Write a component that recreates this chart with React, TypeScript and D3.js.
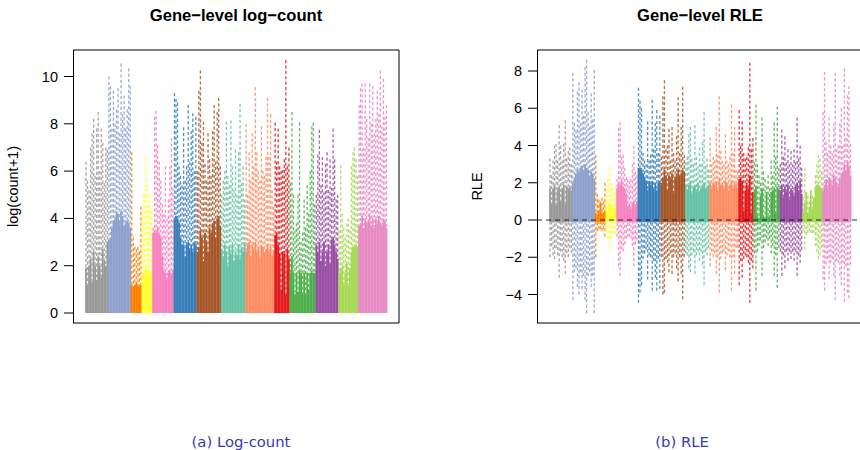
import React from "react";
import * as d3 from "d3";

const groupSizes = [15, 15, 7, 7, 14, 15, 16, 16, 19, 10, 17, 15, 13, 19];
const groupColors = ["#999999", "#8DA0CB", "#FF7F00", "#FFFF33", "#F781BF", "#377EB8", "#A65628", "#66C2A5", "#FC8D62", "#E41A1C", "#4DAF4A", "#984EA3", "#A6D854", "#E78AC3"];
const logTicks = [0, 2, 4, 6, 8, 10];
const rleTicks = [-4, -2, 0, 2, 4, 6, 8];

const logHi = [
  6.4, 5.6, 5.2, 7.0, 7.6, 8.2, 5.8, 7.8, 8.5, 6.0, 7.8, 7.2, 5.5, 7.0, 6.9,
  10.0, 9.6, 7.8, 9.4, 8.0, 8.6, 9.5, 7.6, 10.55, 8.4, 9.2, 7.8, 8.6, 10.35, 9.6,
  6.8, 3.2, 2.8, 2.7, 2.8, 2.6, 4.5,
  4.2, 5.0, 6.6, 5.5, 4.6, 5.0, 4.3,
  3.6, 8.3, 8.55, 7.1, 6.4, 5.6, 4.6, 4.2, 6.2, 4.0, 4.8, 6.2, 7.4, 5.3,
  9.3, 9.05, 8.9, 6.2, 5.8, 5.4, 7.85, 5.6, 6.2, 8.8, 6.4, 7.7, 8.45, 6.0, 8.3,
  6.0, 9.4, 10.25, 7.2, 8.1, 6.3, 5.6, 7.6, 6.5, 5.8, 7.7, 8.8, 6.4, 8.5, 9.1, 6.2,
  5.0, 5.6, 6.0, 8.1, 5.8, 5.4, 8.15, 6.2, 5.2, 6.9, 5.0, 6.8, 8.85, 5.5, 6.2, 4.8,
  8.0, 5.0, 6.8, 5.6, 7.6, 6.2, 9.55, 6.8, 6.0, 5.6, 7.9, 6.0, 5.8, 6.6, 9.1, 6.6, 8.4, 5.2, 4.5,
  8.05, 6.4, 7.8, 6.2, 6.0, 6.05, 6.5, 10.7, 6.2, 7.0,
  5.5, 8.5, 5.0, 3.5, 3.8, 5.0, 8.05, 3.0, 3.4, 4.8, 3.6, 5.4, 4.2, 6.0, 7.9, 8.05, 4.6,
  5.0, 6.7, 7.75, 5.4, 6.6, 5.1, 6.3, 6.8, 5.2, 6.5, 5.3, 7.8, 6.5, 4.8, 5.0,
  3.5, 6.25, 4.2, 3.6, 3.2, 3.8, 4.0, 3.5, 6.2, 6.8, 7.0, 6.5, 5.8,
  8.8, 9.5, 9.7, 7.0, 9.7, 8.2, 7.4, 9.7, 8.0, 9.6, 7.6, 8.2, 9.4, 8.4, 10.25, 7.9, 9.9, 8.3, 8.8,
];
const logQ3 = [
  1.9, 1.2, 2.0, 2.3, 1.3, 2.6, 2.0, 1.4, 2.4, 2.0, 1.5, 2.7, 2.2, 2.0, 3.0,
  3.1, 3.2, 3.6, 3.9, 4.0, 4.3, 4.2, 3.9, 4.3, 4.1, 3.7, 3.8, 3.9, 3.8, 3.6,
  1.2, 1.1, 1.2, 1.3, 1.2, 1.1, 1.2,
  1.6, 1.8, 1.9, 1.7, 1.8, 1.6, 1.8,
  3.4, 3.5, 3.4, 3.6, 3.3, 3.2, 2.4, 1.8, 1.7, 1.5, 1.7, 1.8, 1.6, 1.8,
  4.0, 4.1, 4.0, 3.8, 3.2, 2.9, 2.9, 2.4, 2.9, 3.0, 2.7, 2.9, 2.6, 3.0, 2.9,
  2.6, 2.8, 3.5, 3.2, 2.2, 3.4, 3.0, 2.6, 3.6, 3.4, 3.8, 3.9, 3.2, 4.0, 4.1, 3.7,
  2.7, 2.4, 2.9, 2.6, 2.0, 2.8, 2.5, 2.9, 2.2, 2.6, 2.4, 2.9, 2.3, 2.8, 2.6, 3.0,
  2.6, 2.9, 3.0, 2.4, 2.9, 2.7, 3.0, 2.6, 2.8, 2.3, 2.9, 2.8, 2.5, 2.7, 2.9, 2.6, 2.8, 2.4, 2.6,
  3.3, 3.4, 2.9, 2.5, 1.0, 2.6, 2.5, 0.8, 2.7, 2.3,
  1.7, 2.4, 1.7, 0.8, 1.7, 0.9, 1.8, 1.7, 0.8, 1.7, 0.8, 1.7, 1.0, 1.7, 1.8, 1.7, 1.7,
  2.9, 2.6, 3.0, 2.2, 2.6, 3.0, 2.0, 2.6, 2.9, 2.1, 3.1, 3.2, 2.9, 2.6, 2.3,
  1.7, 1.9, 2.0, 1.2, 1.7, 2.1, 1.2, 1.9, 2.6, 2.8, 2.8, 2.9, 2.8,
  3.7, 3.8, 4.1, 3.6, 4.0, 3.8, 3.9, 4.1, 3.7, 4.0, 3.6, 4.0, 3.8, 4.1, 3.8, 3.7, 4.0, 3.9, 3.6,
];
const rleHi = [
  3.3, 2.4, 3.2, 4.0, 4.1, 3.2, 5.1, 4.0, 3.2, 4.1, 5.35, 3.3, 3.7, 3.9, 3.0,
  7.9, 5.2, 4.8, 6.9, 7.4, 5.2, 7.0, 5.6, 8.2, 8.6, 5.8, 5.0, 6.8, 5.4, 8.05,
  3.5, 1.4, 1.1, 1.0, 1.2, 1.0, 2.0,
  1.6, 2.2, 2.85, 2.0, 1.7, 1.5, 1.8,
  2.2, 4.95, 5.25, 3.4, 3.5, 2.8, 2.3, 2.2, 2.1, 2.2, 3.0, 4.0, 2.6, 2.4,
  7.1, 6.4, 6.0, 3.6, 3.2, 3.0, 5.3, 3.2, 3.5, 6.45, 3.8, 5.2, 5.9, 3.6, 5.6,
  3.4, 6.65, 7.5, 3.8, 4.0, 4.9, 3.2, 5.0, 3.6, 3.2, 4.5, 6.6, 3.6, 5.0, 7.15, 3.5,
  3.1, 3.4, 4.6, 5.0, 3.3, 3.0, 5.1, 3.4, 2.9, 3.9, 3.0, 4.2, 5.8, 2.9, 3.3, 2.7,
  4.45, 3.0, 3.4, 3.2, 5.0, 3.5, 6.65, 3.7, 3.2, 3.0, 4.6, 3.2, 3.0, 3.4, 6.2, 3.6, 5.0, 2.7, 2.6,
  5.9, 4.0, 5.3, 3.6, 3.3, 3.4, 3.9, 8.45, 3.8, 4.4,
  3.1, 6.2, 3.0, 2.4, 2.0, 5.5, 2.6, 2.2, 1.8, 2.4, 1.7, 3.2, 2.4, 5.25, 3.4, 6.1, 2.8,
  3.0, 4.85, 3.4, 4.5, 3.1, 3.8, 3.0, 3.7, 3.0, 3.8, 3.1, 5.5, 3.3, 4.0, 2.8,
  1.2, 2.8, 1.4, 1.3, 1.0, 1.2, 1.3, 1.2, 2.4, 3.0, 3.5, 3.3, 2.6,
  5.8, 7.95, 4.2, 3.6, 5.5, 4.0, 3.6, 5.2, 7.9, 3.8, 4.0, 5.2, 6.0, 4.0, 8.15, 4.4, 6.7, 7.2, 4.1,
];
const rleLo = [
  -2.0, -1.4, -1.9, -2.1, -1.5, -1.9, -3.1, -1.7, -2.0, -2.2, -2.9, -1.8, -2.0, -1.5, -1.8,
  -4.3, -2.8, -2.6, -3.6, -4.0, -2.8, -3.7, -3.0, -4.3, -5.0, -3.0, -2.8, -3.6, -3.0, -5.0,
  -2.0, -0.6, -0.5, -0.5, -0.6, -0.5, -0.9,
  -0.6, -1.0, -1.6, -1.0, -0.8, -0.7, -0.8,
  -0.9, -2.5, -3.0, -1.6, -1.7, -1.3, -1.0, -0.9, -0.9, -1.0, -1.4, -2.5, -1.3, -1.1,
  -4.45, -3.9, -3.5, -2.1, -1.8, -1.6, -3.2, -1.9, -2.0, -3.8, -2.2, -3.1, -3.8, -2.1, -3.7,
  -2.0, -4.0, -3.9, -2.1, -2.3, -2.8, -1.8, -2.9, -2.0, -1.8, -2.6, -3.3, -2.0, -2.9, -4.25, -2.0,
  -1.8, -1.9, -2.6, -2.8, -1.9, -1.7, -2.9, -1.9, -1.7, -2.2, -1.7, -2.4, -3.5, -1.7, -1.9, -1.5,
  -2.5, -1.7, -2.0, -1.8, -2.9, -2.0, -3.9, -2.1, -1.8, -1.7, -2.7, -1.9, -1.7, -2.0, -3.8, -2.0, -2.9, -1.5, -1.5,
  -3.5, -2.2, -3.1, -2.1, -1.9, -2.0, -2.3, -4.45, -2.2, -2.6,
  -1.8, -3.8, -1.7, -1.4, -1.1, -3.0, -1.5, -1.2, -1.0, -1.4, -1.0, -1.8, -1.4, -3.0, -1.9, -3.65, -1.5,
  -1.7, -3.0, -1.9, -2.6, -1.7, -2.2, -1.7, -2.1, -1.7, -2.2, -1.7, -3.0, -1.9, -2.3, -1.6,
  -0.6, -1.6, -0.8, -0.7, -0.6, -0.7, -0.7, -0.7, -1.4, -1.7, -2.1, -1.9, -1.5,
  -3.2, -3.8, -2.4, -2.1, -3.2, -2.3, -2.1, -3.0, -4.3, -2.2, -2.3, -3.0, -3.5, -2.3, -4.4, -2.5, -3.9, -4.2, -2.4,
];
const rleQ3 = [
  1.7, 0.9, 1.7, 1.9, 0.8, 1.6, 1.8, 1.0, 1.7, 1.9, 0.9, 1.8, 1.7, 1.8, 1.6,
  2.0, 2.2, 2.5, 2.7, 2.6, 2.8, 2.9, 2.7, 3.0, 2.8, 2.7, 2.4, 2.6, 2.5, 2.2,
  0.4, 0.3, 0.5, 0.9, 0.4, 0.3, 0.5,
  0.6, 0.8, 0.9, 0.7, 0.8, 0.6, 0.8,
  1.7, 2.0, 1.9, 2.1, 1.8, 1.7, 1.4, 0.7, 0.9, 0.6, 0.9, 1.0, 0.7, 1.0,
  2.8, 2.8, 2.7, 2.5, 2.3, 2.1, 1.6, 2.1, 1.9, 2.1, 1.7, 2.0, 1.6, 2.0, 2.1,
  2.0, 2.3, 2.7, 2.4, 1.6, 2.4, 2.2, 2.5, 1.4, 2.3, 2.5, 2.7, 2.4, 2.5, 2.7, 2.6,
  1.9, 1.6, 1.9, 2.1, 1.4, 1.8, 1.9, 1.6, 2.0, 1.5, 1.7, 1.9, 2.0, 1.7, 1.8, 1.9,
  2.0, 1.7, 2.0, 1.9, 2.1, 1.6, 2.2, 1.9, 2.0, 1.7, 2.1, 2.0, 1.6, 1.9, 2.1, 1.7, 2.0, 1.9, 1.7,
  2.2, 2.3, 2.1, 0.5, 1.6, 2.0, 1.7, 2.4, 0.4, 1.5,
  1.6, 1.8, 0.2, 0.1, 1.3, 1.7, 0.2, 0.1, 1.5, 0.2, 0.1, 1.5, 1.6, 1.7, 0.4, 1.8, 1.7,
  1.6, 1.9, 1.2, 1.8, 1.5, 1.9, 1.1, 1.7, 1.6, 1.3, 1.9, 2.0, 1.6, 2.1, 1.4,
  0.4, 0.9, 1.5, 0.4, 0.7, 1.6, 0.6, 1.2, 1.8, 1.9, 1.9, 1.8, 1.7,
  1.6, 1.9, 2.2, 1.7, 2.3, 2.1, 1.9, 2.4, 2.2, 2.0, 1.8, 2.2, 2.5, 2.6, 3.0, 2.7, 3.2, 2.9, 2.4,
];
const rleQ1Offset = -0.12;

const sampleColors = groupSizes.flatMap((n, g) => d3.range(n).map(() => groupColors[g]));
const sampleIds = d3.range(logHi.length);
const FONT = "'Liberation Sans', Arial, sans-serif";
const TOP = 50;
const BOTTOM = 323;
const boxW = 1.8;

function Frame({ left, right, y, ticks, label, labelX, title, titleX }: any) {
  return (
    <g fontFamily={FONT} fill="#000">
      <text x={titleX} y={21} textAnchor="middle" fontSize={16.6} fontWeight="bold">{title}</text>
      <line x1={left} x2={right} y1={TOP} y2={TOP} stroke="#000" />
      <line x1={left} x2={right} y1={BOTTOM} y2={BOTTOM} stroke="#000" />
      <line x1={left + 0.5} x2={left + 0.5} y1={TOP} y2={BOTTOM} stroke="#000" />
      <line x1={right} x2={right} y1={TOP} y2={BOTTOM} stroke="#000" />
      {ticks.map((t: number) => (
        <g key={t}>
          <line x1={left - 9} x2={left} y1={y(t)} y2={y(t)} stroke="#000" />
          <text x={left - 15} y={y(t) + 5} textAnchor="end" fontSize={14.5}>{String(t).replace("-", "\u2212")}</text>
        </g>
      ))}
      <text transform={`translate(${labelX},${(TOP + BOTTOM) / 2}) rotate(-90)`} textAnchor="middle" fontSize={14.5}>{label}</text>
    </g>
  );
}

export default function App() {
  const xL = d3.scaleLinear().domain([0, logHi.length - 1]).range([86, 386.5]);
  const xR = d3.scaleLinear().domain([0, logHi.length - 1]).range([550, 850.5]);
  const yL = d3.scaleLinear().domain([0, 10]).range([313, 76.5]);
  const yR = d3.scaleLinear().domain([0, 8]).range([220, 71]);
  const dash = "3.2 2.2";
  const sw = 1.3;
  const wo = 0.85;

  return (
    <svg width={860} height={450} style={{ position: "absolute", left: 0, top: 0, background: "#fff" }}>
      {sampleIds.map(i => (
        <line key={i} x1={xL(i)} x2={xL(i)} y1={yL(logHi[i])} y2={yL(logQ3[i])} stroke={sampleColors[i]} strokeWidth={sw} strokeDasharray={dash} opacity={wo} />
      ))}
      {sampleIds.map(i => (
        <rect key={i} x={xL(i) - boxW / 2} width={boxW} y={yL(logQ3[i])} height={yL(0) - yL(logQ3[i])} fill={sampleColors[i]} />
      ))}
      <Frame left={73} right={399} y={yL} ticks={logTicks} label="log(count+1)" labelX={18} title={"Gene\u2212level log\u2212count"} titleX={236} />

      {sampleIds.map(i => (
        <g key={i} stroke={sampleColors[i]} strokeWidth={sw} strokeDasharray={dash} opacity={wo}>
          <line x1={xR(i)} x2={xR(i)} y1={yR(rleHi[i])} y2={yR(rleQ3[i])} />
          <line x1={xR(i)} x2={xR(i)} y1={yR(rleLo[i])} y2={yR(rleQ1Offset)} />
        </g>
      ))}
      {sampleIds.map(i => (
        <rect key={i} x={xR(i) - boxW / 2} width={boxW} y={yR(rleQ3[i])} height={yR(rleQ1Offset) - yR(rleQ3[i])} fill={sampleColors[i]} />
      ))}
      <line x1={537} x2={860} y1={yR(0)} y2={yR(0)} stroke="#000" strokeDasharray="5 4" opacity={0.8} />
      <Frame left={537} right={863} y={yR} ticks={rleTicks} label="RLE" labelX={482} title={"Gene\u2212level RLE"} titleX={700} />

      <g fontFamily="'DejaVu Sans', sans-serif" fontSize={14.8} fill="#3A3AB0" textAnchor="middle">
        <text x={241} y={447}>(a) Log-count</text>
        <text x={682} y={447}>(b) RLE</text>
      </g>
    </svg>
  );
}
